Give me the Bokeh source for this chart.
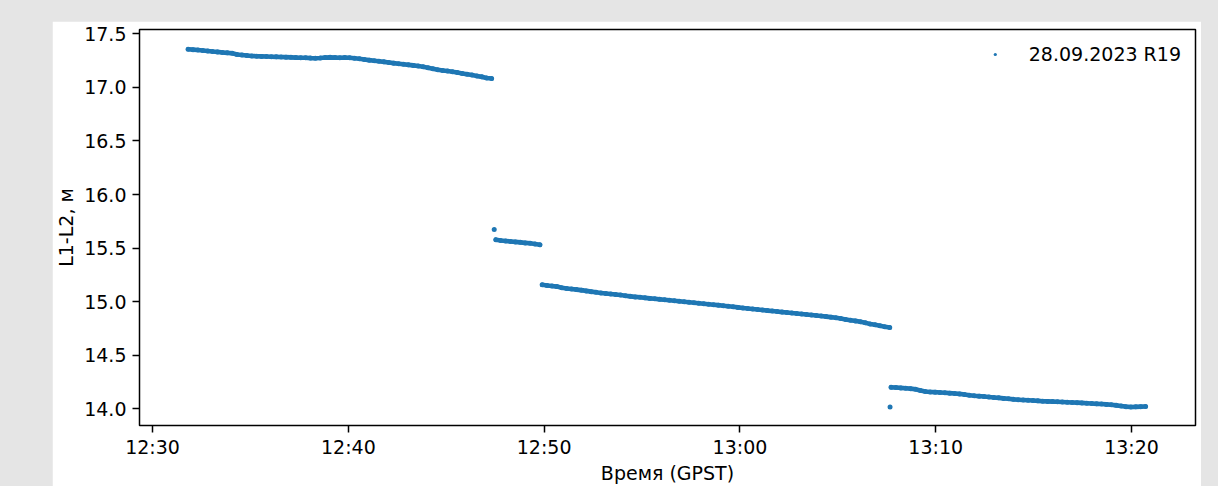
from datetime import datetime, timedelta
from bokeh.plotting import figure
from bokeh.models import (Range1d, FixedTicker, DatetimeTickFormatter,
                          NumeralTickFormatter, ColumnDataSource)
from bokeh.embed import file_html
from bokeh.resources import INLINE

# ---------------- data ----------------
DATE = "2023-09-28"
STEP_S = 15  # sampling step of the listed values, seconds

seg1_start = "12:31:49"
seg1_vals = [17.356, 17.352, 17.348, 17.344, 17.339, 17.334, 17.331, 17.326, 17.322, 17.318,
             17.306, 17.302, 17.297, 17.293, 17.291, 17.289, 17.288, 17.286, 17.285, 17.283,
             17.282, 17.280, 17.278, 17.277, 17.276, 17.273, 17.272, 17.274, 17.278, 17.280,
             17.278, 17.277, 17.278, 17.276, 17.272, 17.267, 17.260, 17.254, 17.249, 17.244,
             17.238, 17.232, 17.226, 17.221, 17.216, 17.210, 17.205, 17.199, 17.192, 17.184,
             17.174, 17.164, 17.158, 17.152, 17.145, 17.138, 17.130, 17.122, 17.115, 17.107,
             17.098, 17.088, 17.082]

outlier1_time = "12:47:27"
outlier1_val = 15.674

seg2_start = "12:47:32"
seg2_vals = [15.579, 15.572, 15.567, 15.562, 15.558, 15.554, 15.549, 15.545, 15.538, 15.531]

seg3_start = "12:49:54"
seg3_vals = [15.158, 15.152, 15.147, 15.141, 15.130, 15.124, 15.119, 15.113, 15.108, 15.101,
             15.094, 15.088, 15.082, 15.077, 15.072, 15.067, 15.062, 15.056, 15.050, 15.045,
             15.041, 15.036, 15.031, 15.027, 15.022, 15.018, 15.014, 15.009, 15.004, 14.999,
             14.995, 14.990, 14.985, 14.981, 14.977, 14.972, 14.968, 14.963, 14.958, 14.953,
             14.947, 14.941, 14.936, 14.932, 14.927, 14.922, 14.917, 14.913, 14.908, 14.903,
             14.899, 14.894, 14.890, 14.886, 14.881, 14.876, 14.871, 14.866, 14.861, 14.856,
             14.851, 14.843, 14.835, 14.827, 14.821, 14.814, 14.804, 14.793, 14.784, 14.775,
             14.766, 14.759]

outlier2_time = "13:07:40"
outlier2_val = 14.017

seg4_start = "13:07:43"
seg4_vals = [14.201, 14.199, 14.196, 14.192, 14.189, 14.183, 14.172, 14.162, 14.158, 14.156,
             14.153, 14.150, 14.147, 14.144, 14.140, 14.134, 14.127, 14.122, 14.119, 14.115,
             14.111, 14.107, 14.103, 14.098, 14.094, 14.089, 14.086, 14.083, 14.080, 14.078,
             14.075, 14.072, 14.070, 14.068, 14.066, 14.064, 14.062, 14.060, 14.058, 14.056,
             14.053, 14.050, 14.047, 14.045, 14.042, 14.038, 14.033, 14.027, 14.021, 14.018,
             14.019, 14.021, 14.022]

x_ticks = ["12:30", "12:40", "12:50", "13:00", "13:10", "13:20"]
y_ticks = [14.0, 14.5, 15.0, 15.5, 16.0, 16.5, 17.0, 17.5]
x_range_hm = ("12:29:20", "13:23:16")
y_range_v = (13.845, 17.54)

legend_label = "28.09.2023 R19"
x_label = "Время (GPST)"
y_label = "L1-L2, м"

# ---------------- build ----------------
def ts(hms):
    fmt = "%Y-%m-%d %H:%M:%S" if hms.count(":") == 2 else "%Y-%m-%d %H:%M"
    return datetime.strptime(DATE + " " + hms, fmt)

def seg_times(start, n):
    b = ts(start)
    return [b + timedelta(seconds=STEP_S * i) for i in range(n)]

BLUE = "#1f77b4"
FONT = "DejaVu Sans"
FS = "19px"

p = figure(width=1149, height=465, x_axis_type="datetime",
           output_backend="svg", toolbar_location=None,
           x_range=Range1d(ts(x_range_hm[0]), ts(x_range_hm[1])),
           y_range=Range1d(*y_range_v),
           min_border_left=86, min_border_right=6, min_border_top=8, min_border_bottom=55)
p.margin = (21, 0, 0, 52)
p.background_fill_color = "white"
p.border_fill_color = "white"
p.outline_line_color = "black"
p.outline_line_width = 1.5
p.xgrid.visible = False
p.ygrid.visible = False

xs, ys = [], []
for st, vals in [(seg1_start, seg1_vals), (seg2_start, seg2_vals),
                 (seg3_start, seg3_vals), (seg4_start, seg4_vals)]:
    t = seg_times(st, len(vals))
    # dense scatter in the reference renders as a thick band
    p.line(t, vals, line_width=4.6, line_color=BLUE, line_cap="round", line_join="round")
    xs += t
    ys += vals
xs += [ts(outlier1_time), ts(outlier2_time)]
ys += [outlier1_val, outlier2_val]
src = ColumnDataSource(dict(x=xs, y=ys))

p.scatter("x", "y", source=src, size=5, fill_color=BLUE, line_color=None)
p.scatter("x", "y", source=src, size=3, fill_color=BLUE, line_color=None,
          legend_label=legend_label)

epoch = datetime(1970, 1, 1)
x_tick_ms = [(ts(t) - epoch).total_seconds() * 1000 for t in x_ticks]
p.xaxis.ticker = FixedTicker(ticks=x_tick_ms)
p.xaxis.formatter = DatetimeTickFormatter(minutes="%H:%M", hourmin="%H:%M", hours="%H:%M",
                                          minsec="%H:%M", seconds="%H:%M")
p.yaxis.ticker = FixedTicker(ticks=y_ticks)
p.yaxis.formatter = NumeralTickFormatter(format="0.0")

p.xaxis.axis_label = x_label
p.yaxis.axis_label = y_label
for ax in (p.xaxis, p.yaxis):
    ax.axis_line_color = None
    ax.major_tick_line_color = "black"
    ax.major_tick_line_width = 1.5
    ax.major_tick_out = 7
    ax.major_tick_in = 0
    ax.minor_tick_line_color = None
    ax.major_label_text_font = FONT
    ax.major_label_text_font_size = FS
    ax.major_label_text_color = "black"
    ax.axis_label_text_font = FONT
    ax.axis_label_text_font_size = FS
    ax.axis_label_text_font_style = "normal"
    ax.axis_label_text_color = "black"
p.xaxis.major_label_standoff = 3
p.xaxis.axis_label_standoff = 1
p.yaxis.major_label_standoff = 6
p.yaxis.axis_label_standoff = 4

lg = p.legend[0]
lg.location = "top_right"
lg.margin = 14
lg.padding = 8
lg.glyph_width = 8
lg.glyph_height = 8
lg.label_standoff = 30
lg.label_text_font = FONT
lg.label_text_font_size = FS
lg.label_text_color = "black"
lg.border_line_color = None
lg.background_fill_alpha = 0

html = file_html(p, INLINE)
html = html.replace("<head>", "<head><style>html,body{margin:0;padding:0;background:#e5e5e5;overflow:hidden}</style>", 1)
open("out.html", "w").write(html)
